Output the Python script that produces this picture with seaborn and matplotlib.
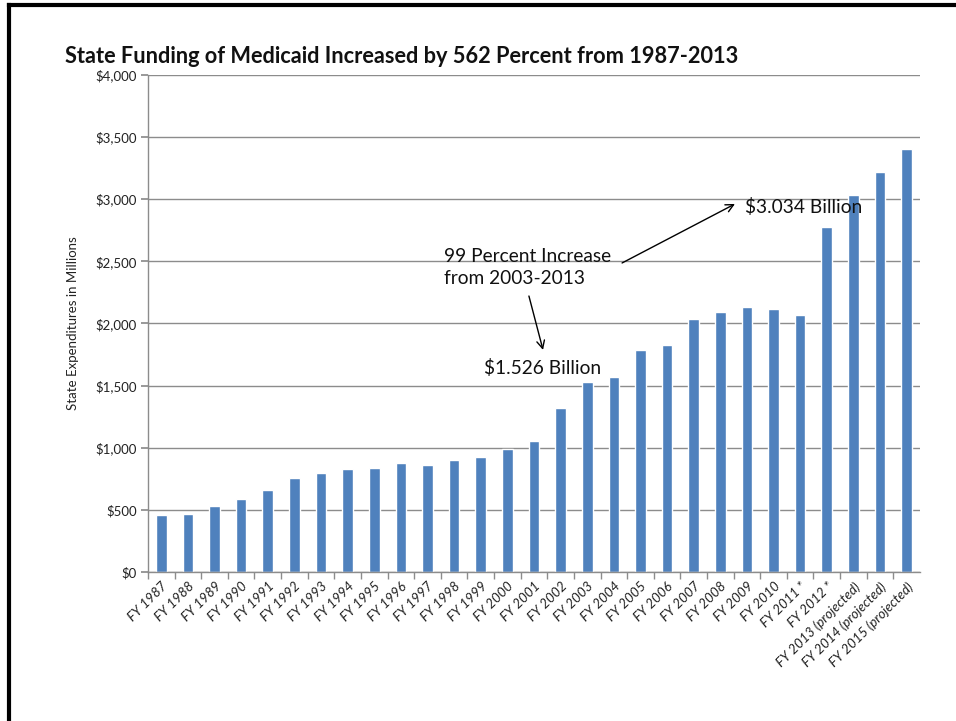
import numpy as np
import matplotlib
matplotlib.use("Agg")
import matplotlib.pyplot as plt
import seaborn as sns
from matplotlib.ticker import FuncFormatter, FixedLocator
from matplotlib.lines import Line2D

years = ["FY 1987", "FY 1988", "FY 1989", "FY 1990", "FY 1991", "FY 1992", "FY 1993",
         "FY 1994", "FY 1995", "FY 1996", "FY 1997", "FY 1998", "FY 1999", "FY 2000",
         "FY 2001", "FY 2002", "FY 2003", "FY 2004", "FY 2005", "FY 2006", "FY 2007",
         "FY 2008", "FY 2009", "FY 2010", "FY 2011 *", "FY 2012 *",
         "FY 2013 (projected)", "FY 2014 (projected)", "FY 2015 (projected)"]
spending = [456, 466, 528, 585, 657, 756, 799, 831, 839, 877, 863, 901, 925, 992,
            1054, 1319, 1526, 1569, 1786, 1823, 2035, 2092, 2132, 2118, 2067, 2780,
            3034, 3218, 3405]
y_ticks = [0, 500, 1000, 1500, 2000, 2500, 3000, 3500, 4000]

sns.set_theme(style="white")
plt.rcParams["font.family"] = ["Lato", "DejaVu Sans"]

fig = plt.figure(figsize=(9.56, 7.21), dpi=100)
ax = fig.add_axes([0.1548, 0.2067, 0.8075, 0.6893])

sns.barplot(x=years, y=spending, color="#4F81BD", saturation=1, width=0.4, ax=ax)

ax.set_xlim(-0.5, len(years) - 0.5)
ax.set_ylim(0, 4000)
ax.yaxis.set_major_locator(FixedLocator(y_ticks))
ax.yaxis.set_major_formatter(FuncFormatter(lambda v, p: f"${v:,.0f}"))
ax.grid(axis="y", color="#8c8c8c", linewidth=1)
ax.set_axisbelow(True)

for s in ["top", "right"]:
    ax.spines[s].set_visible(False)
for s in ["left", "bottom"]:
    ax.spines[s].set_color("#8c8c8c")
    ax.spines[s].set_linewidth(1)

ax.tick_params(axis="y", which="major", left=True, length=5, color="#8c8c8c",
               labelsize=9.5, labelcolor="#222222", pad=3)
ax.tick_params(axis="x", which="major", bottom=False, length=0, labelsize=9.7,
               labelcolor="#222222", pad=6)
ax.set_xticks(np.arange(len(years)) - 0.5, minor=True)
ax.tick_params(axis="x", which="minor", bottom=True, length=5, color="#8c8c8c")
ax.set_xticks(np.arange(len(years)))
ax.set_xticklabels(years, rotation=45, ha="right", rotation_mode="anchor",
                   fontstyle="italic")

ax.set_xlabel("")
ax.set_ylabel("State Expenditures in Millions", fontsize=9.5, color="#222222", labelpad=12)

fig.text(0.068, 0.921, "State Funding of Medicaid Increased by 562 Percent from 1987-2013",
         fontsize=15.7, fontweight="bold", ha="left", va="center", color="#111111")

ax.text(21.93, 2938, "$3.034 Billion", fontsize=13.8, ha="left", va="center", color="#111111")
ax.text(10.62, 2450, "99 Percent Increase\nfrom 2003-2013", fontsize=13.8, ha="left",
        va="center", linespacing=1.4, color="#111111")
ax.text(12.12, 1642, "$1.526 Billion", fontsize=13.8, ha="left", va="center", color="#111111")

arrow = dict(arrowstyle="->", color="black", lw=1, mutation_scale=14, shrinkA=0, shrinkB=0)
ax.annotate("", xy=(21.55, 2962), xytext=(17.31, 2487), arrowprops=arrow)
ax.annotate("", xy=(14.34, 1787), xytext=(13.81, 2221), arrowprops=arrow)

# slide frame (left and top edges)
fig.add_artist(Line2D([8.5 / 956, 8.5 / 956], [0, 1 - 4.5 / 721], color="black", lw=3,
                      transform=fig.transFigure, solid_capstyle="projecting"))
fig.add_artist(Line2D([8.5 / 956, 1], [1 - 4.5 / 721, 1 - 4.5 / 721], color="black", lw=3,
                      transform=fig.transFigure, solid_capstyle="projecting"))

fig.savefig("out.png", dpi=100, facecolor="white")
